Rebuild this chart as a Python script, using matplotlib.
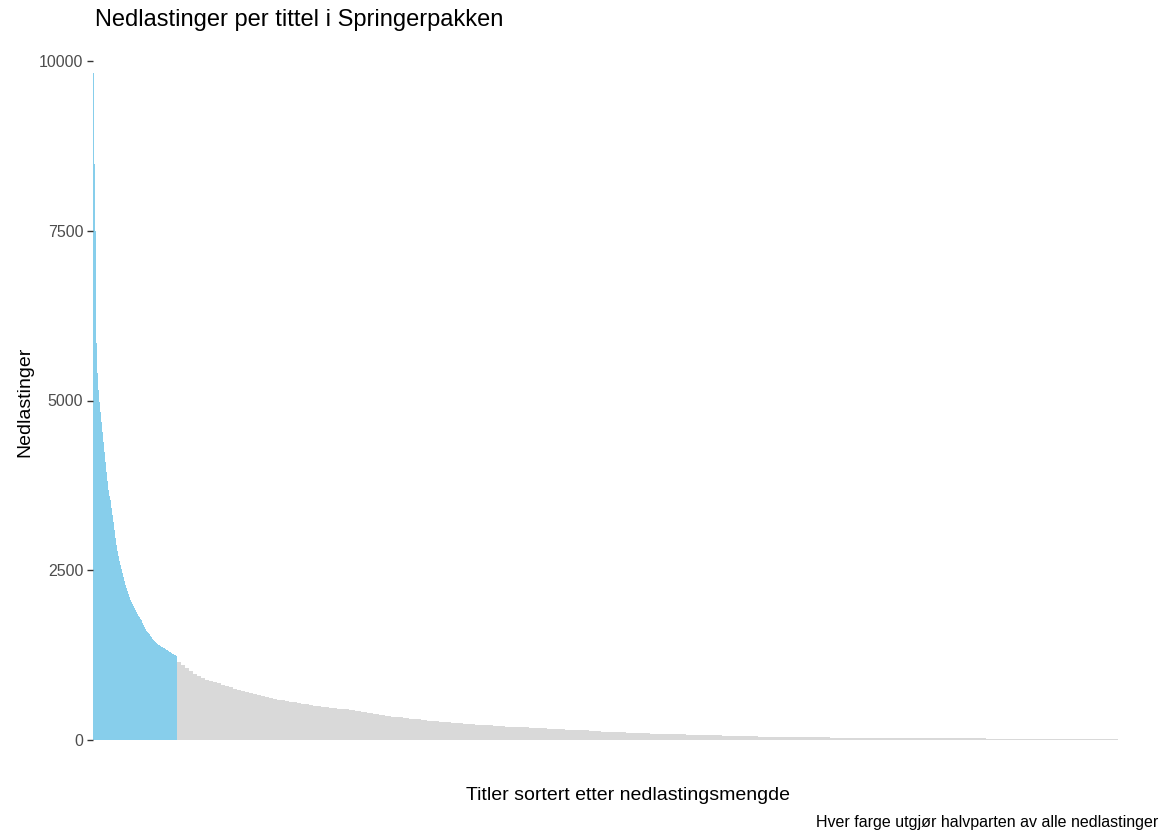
import numpy as np
import matplotlib
matplotlib.use("Agg")
import matplotlib.pyplot as plt

# ---- data (downloads per title, sorted descending) ----
# Individually read titles (blue half: these titles account for half of all downloads)
head_downloads = [
    9824, 8485, 7500, 5850, 5400, 5150, 4980, 4824, 4676, 4529,
    4382, 4235, 4088, 3941, 3809, 3676, 3588, 3529, 3412, 3309,
    3206, 3088, 2971, 2868, 2779, 2706, 2632, 2574, 2515, 2456,
    2397, 2338, 2279, 2235, 2191, 2147, 2103, 2059, 2029, 2000,
    1971, 1941, 1912, 1882, 1853, 1831, 1809, 1787, 1765, 1728,
    1691, 1662, 1632, 1610, 1588, 1574, 1559, 1537, 1515, 1493,
    1471, 1456, 1441, 1426, 1412, 1404, 1397, 1382, 1375, 1368,
    1357, 1349, 1338, 1328, 1319, 1309, 1299, 1290, 1279, 1269,
    1260, 1250, 1245, 1240,
]
# Long tail: download level and number of titles at that level
tail_downloads = [
    1150, 1098, 1055, 1015, 975, 938, 907, 885, 866, 851,
    838, 816, 795, 775, 755, 737, 721, 708, 694, 681,
    667, 653, 639, 625, 610, 595, 583, 571, 561, 553,
    545, 535, 525, 516, 508, 500, 490, 480, 473, 469,
    463, 450, 436, 423, 409, 396, 383, 370, 358, 346,
    334, 323, 314, 304, 295, 286, 277, 269, 260, 253,
    246, 238, 232, 226, 220, 214, 208, 203, 198, 194,
    190, 185, 180, 176, 171, 167, 162, 157, 153, 148,
    144, 140, 136, 132,
    124, 114, 105, 99, 93, 88, 83, 78, 72, 67,
    63, 59, 55, 51, 48, 45, 43, 41, 38, 36,
    35, 33, 32, 31, 30, 29, 29, 28, 27, 27,
    26, 24, 14, 14, 13, 13, 12, 12, 11, 11,
    10, 10, 9,
]
tail_titles = [
    4, 4, 4, 4, 4, 4, 4, 4, 4, 4,
    4, 4, 4, 4, 4, 4, 4, 4, 4, 4,
    4, 4, 4, 4, 4, 4, 4, 4, 4, 4,
    4, 4, 4, 4, 4, 4, 4, 4, 4, 4,
    6, 6, 6, 6, 6, 6, 6, 6, 6, 6,
    6, 6, 6, 6, 6, 6, 6, 6, 6, 6,
    6, 6, 6, 6, 6, 6, 6, 6, 6, 6,
    6, 6, 6, 6, 6, 6, 6, 6, 6, 6,
    6, 6, 6, 6,
    12, 12, 12, 12, 12, 12, 12, 12, 12, 12,
    12, 12, 12, 12, 12, 12, 12, 12, 12, 12,
    12, 12, 12, 12, 12, 12, 12, 12, 12, 12,
    12, 12, 12, 12, 12, 12, 12, 12, 12, 12,
    12, 12, 12,
]
y_ticks = [0, 2500, 5000, 7500, 10000]

title = "Nedlastinger per tittel i Springerpakken"
x_label = "Titler sortert etter nedlastingsmengde"
y_label = "Nedlastinger"
caption = "Hver farge utgjør halvparten av alle nedlastinger"

BLUE = "#87CEEB"
GREY = "#D9D9D9"

downloads = np.concatenate([np.array(head_downloads),
                            np.repeat(tail_downloads, tail_titles)])
n = len(downloads)
colors = [BLUE] * len(head_downloads) + [GREY] * (n - len(head_downloads))

W, H = 1165, 835
fig = plt.figure(figsize=(W / 100, H / 100), dpi=100)
plt.rcParams["font.family"] = ["Liberation Sans", "DejaVu Sans"]

ax = fig.add_axes([93 / W, (H - 740) / H, (1118 - 93) / W, (740 - 61) / H])
ax.bar(np.arange(n), downloads, width=1.0, color=colors, linewidth=0,
       antialiased=False, align="center")
ax.set_xlim(-0.5, n - 0.5)
ax.set_ylim(0, 10000)
for s in ax.spines.values():
    s.set_visible(False)
ax.set_xticks([])
ax.set_yticks(y_ticks)
ax.set_yticklabels([str(t) for t in y_ticks])
ax.tick_params(axis="y", length=4, width=1.0, color="#333333",
               labelcolor="#4D4D4D", labelsize=11.5, pad=3)
ax.patch.set_alpha(0)

fig.text(95 / W, 1 - 20 / H, title, fontsize=17, ha="left", va="center",
         color="black")
fig.text(628 / W, 1 - 795 / H, x_label, fontsize=14, ha="center",
         va="center", color="black")
fig.text(25 / W, 1 - 402 / H, y_label, fontsize=14, ha="center",
         va="center", rotation=90, color="black")
fig.text(1158 / W, 1 - 822 / H, caption, fontsize=11.5, ha="right",
         va="center", color="black")

fig.savefig("out.png", dpi=100, facecolor="white")
